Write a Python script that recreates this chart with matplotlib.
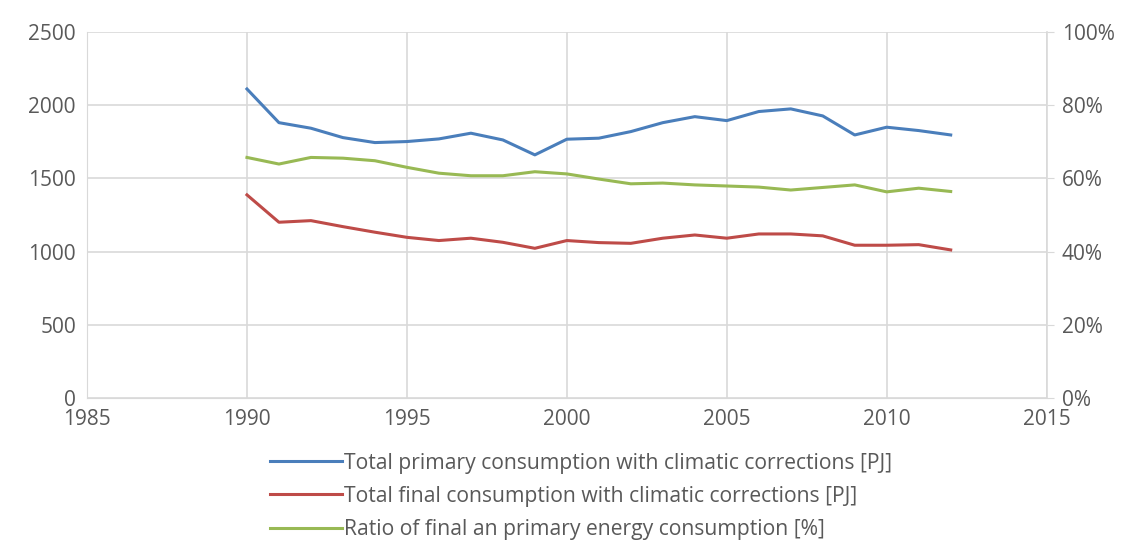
import matplotlib.pyplot as plt
from matplotlib.ticker import FuncFormatter

years = list(range(1990, 2013))
primary = [2110, 1880, 1842, 1778, 1744, 1751, 1769, 1808, 1762, 1660, 1767, 1774,
           1819, 1880, 1921, 1894, 1956, 1974, 1926, 1796, 1849, 1826, 1796]
final = [1387, 1200, 1211, 1170, 1132, 1097, 1075, 1091, 1063, 1022, 1075, 1061,
         1056, 1091, 1113, 1091, 1120, 1120, 1107, 1043, 1043, 1047, 1011]
ratio = [65.7, 63.9, 65.7, 65.5, 64.8, 63.0, 61.4, 60.7, 60.7, 61.8, 61.2, 59.8,
         58.5, 58.7, 58.2, 57.9, 57.6, 56.8, 57.5, 58.2, 56.3, 57.3, 56.4]

labels = ['Total primary consumption with climatic corrections [PJ]',
          'Total final consumption with climatic corrections [PJ]',
          'Ratio of final an primary energy consumption [%]']

plt.rcParams['font.family'] = ['Open Sans', 'DejaVu Sans']
txt = '#595959'
grid = '#d9d9d9'

fig = plt.figure(figsize=(11.33, 5.40), dpi=100)
ax = fig.add_axes([0.0768, 0.263, 0.847, 0.678])
ax2 = ax.twinx()

l1, = ax.plot(years, primary, color='#4a7ebb', lw=2.2)
l2, = ax.plot(years, final, color='#be4b48', lw=2.2)
l3, = ax2.plot(years, ratio, color='#98b954', lw=2.2)

ax.set_xlim(1985, 2015)
ax.set_ylim(0, 2500)
ax.set_xticks(range(1985, 2016, 5))
ax.set_yticks(range(0, 2501, 500))
ax.grid(True, color=grid, lw=1.2)
ax.set_axisbelow(True)

ax2.set_ylim(0, 100)
ax2.set_yticks(range(0, 101, 20))
ax2.yaxis.set_major_formatter(FuncFormatter(lambda v, p: f'{v:.0f}%'))

for a in (ax, ax2):
    for s in a.spines.values():
        s.set_visible(False)
    a.tick_params(labelsize=15, colors=txt, length=0, pad=8)
ax.spines['left'].set_visible(True)
ax.spines['left'].set_color(grid)
ax.spines['bottom'].set_visible(True)
ax.spines['bottom'].set_color(grid)
ax2.spines['right'].set_visible(True)
ax2.spines['right'].set_color(grid)
ax2.spines['right'].set_linewidth(1.2)
ax2.tick_params(axis='y', length=5, color=grid, pad=6)

fig.legend([l1, l2, l3], labels, loc='upper center', bbox_to_anchor=(0.513, 0.197),
           ncol=1, frameon=False, fontsize=15.2, labelcolor=txt,
           handlelength=3.4, handletextpad=0.1, labelspacing=0.58)

fig.savefig('out.png', dpi=100)
